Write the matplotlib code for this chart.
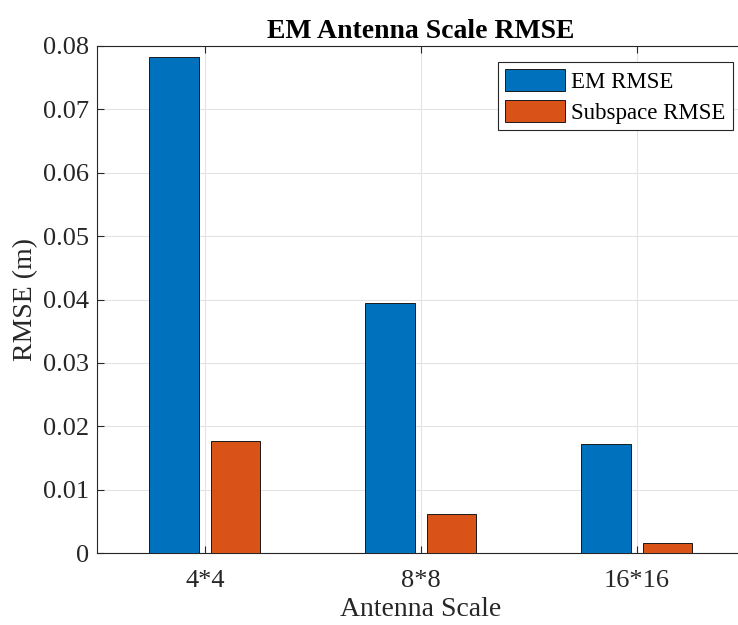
import matplotlib.pyplot as plt
import numpy as np

plt.rcParams['font.family'] = ['Liberation Serif', 'DejaVu Serif']

scales = ['4*4', '8*8', '16*16']
em_rmse = [0.0783, 0.0395, 0.0172]
sub_rmse = [0.0176, 0.0062, 0.0016]

x = np.arange(1, len(scales) + 1)
w = 0.23

fig = plt.figure(figsize=(7.38, 6.25), dpi=100)
ax = fig.add_axes([0.1314, 0.1152, 0.878, 0.8112])

ax.bar(x - 0.142, em_rmse, w, color='#0072BD', edgecolor='#1a1a1a', linewidth=0.7,
       label='EM RMSE', zorder=3)
ax.bar(x + 0.142, sub_rmse, w, color='#D95319', edgecolor='#1a1a1a', linewidth=0.7,
       label='Subspace RMSE', zorder=3)

ax.set_xlim(0.5, 3.5)
ax.set_ylim(0, 0.08)
ax.set_xticks(x)
ax.set_xticklabels(scales)
ax.set_yticks(np.arange(0, 0.081, 0.01))
ax.set_yticklabels(['0'] + ['%.2f' % v for v in np.arange(0.01, 0.081, 0.01)])
ax.grid(True, color='#e3e3e3', linewidth=0.8, zorder=0)
ax.tick_params(direction='in', labelsize=19, colors='#262626', length=5, top=True, right=True)
ax.tick_params(axis='x', pad=12)
ax.tick_params(axis='y', pad=6)
for s in ax.spines.values():
    s.set_color('#262626')
    s.set_linewidth(0.8)

ax.set_xlabel('Antenna Scale', fontsize=20, color='#262626', labelpad=4)
ax.set_ylabel('RMSE (m)', fontsize=20, color='#262626', labelpad=3)
ax.set_title('EM Antenna Scale RMSE', fontsize=20, fontweight='bold', pad=6)

leg = ax.legend(loc='upper right', bbox_to_anchor=(0.981, 0.968), borderaxespad=0,
                fontsize=16.5, handlelength=2.6, handleheight=1.1, borderpad=0.3,
                labelspacing=0.3, handletextpad=0.3, fancybox=False, framealpha=1,
                edgecolor='#262626')
leg.get_frame().set_linewidth(0.8)

fig.savefig('out.png', dpi=100)
